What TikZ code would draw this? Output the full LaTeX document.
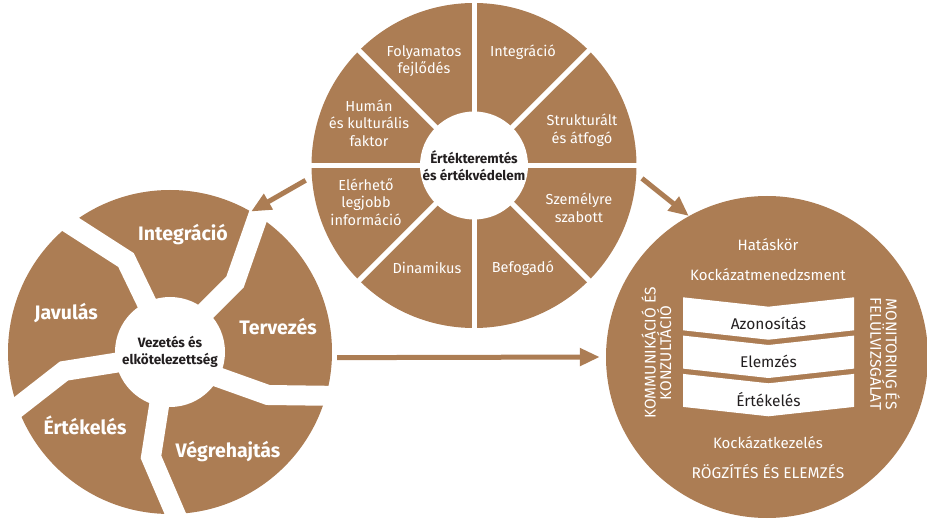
\documentclass[tikz,border=0pt]{standalone}
\usepackage{fontspec}
\setmainfont{Fira Sans}
\usetikzlibrary{arrows.meta}
\definecolor{bronze}{RGB}{172,125,84}
\definecolor{ink}{RGB}{35,31,32}

\begin{document}
\begin{tikzpicture}[x=1pt,y=1pt,
  disc/.style={circle,fill=bronze,minimum size=#1,inner sep=0pt},
  hub/.style={circle,fill=white,minimum size=#1,inner sep=0pt,align=center,
    text=ink,font=\bfseries\fontsize{13.5}{16.5}\selectfont},
  seg/.style={text=white,align=center,font=\fontsize{14.5}{17.5}\selectfont},
  big/.style={text=white,font=\bfseries\fontsize{19.5}{22}\selectfont},
  lbl/.style={text=white,align=center,font=\fontsize{15}{15.5}\selectfont},
  caps/.style={lbl,font=\fontsize{15.5}{15.5}\selectfont},
  stage/.style={text=ink,font=\fontsize{15.5}{17}\selectfont},
  cut/.style={draw=white,line width=5pt},
  gap/.style={draw=white,line width=20pt},
  arr/.style={draw=bronze,line width=5pt,-{Triangle[length=20pt,width=17pt]}}]
\useasboundingbox (0,0) rectangle (927,520);

\node[disc=325pt] (vc) at (474,354.5) {};
\foreach \a in {0,45,90,135}
  \draw[cut] (vc.center) +(\a:165) -- +(\a+180:165);
\node[hub=108pt] (vch) at (vc.center) {Értékteremtés\\és értékvédelem};
\node[seg] (fo) at (424,459) {Folyamatos\\fejlődés};
\node[seg] (in) at (523,468) {Integráció};
\node[seg] (st) at (582,390) {Strukturált\\és átfogó};
\node[seg] (sz) at (579,312) {Személyre\\szabott};
\node[seg] (be) at (523,252) {Befogadó};
\node[seg] (di) at (427,252) {Dinamikus};
\node[seg] (el) at (366,318) {Elérhető\\legjobb\\információ};
\node[seg] (hu) at (369,397) {Humán\\és kulturális\\faktor};

\node[disc=324pt] (lc) at (170,168) {};
\draw[gap] (154,202) -- (126,260) -- (56,305);
\draw[gap] (193,196) -- (235,238) -- (263,318);
\draw[gap] (198,150) -- (268,125) -- (343,124);
\draw[gap] (162,133) -- (151,63) -- (181,-7);
\draw[gap] (133,160) -- (64,149) -- (5,103);
\node[hub=110pt] (lch) at (lc.center) {Vezetés és\\elkötelezettség};
\node[big] (li) at (183,285) {Integráció};
\node[big] (lt) at (278,193) {Tervezés};
\node[big] (lv) at (228,68) {Végrehajtás};
\node[big] (le) at (85,95) {Értékelés};
\node[big] (lj) at (66,207) {Javulás};

\node[disc=322pt] (rc) at (767,163) {};
\node[lbl] (hk) at (768,275) {Hatáskör};
\node[lbl] (km) at (768,245) {Kockázatmenedzsment};
\foreach \i/\t in {0/Azonosítás,1/Elemzés,2/Értékelés}{
  \pgfmathsetmacro\a{222.7-38.3*\i}
  \fill[white] (683,\a) -- (768.5,\a-9.4) -- (854,\a) -- (854,\a-33)
    -- (768.5,\a-42.4) -- (683,\a-33) -- cycle;
  \node[stage] (s\i) at (768.5,\a-26) {\t};
}
\node[caps,rotate=90] (ko) at (656.5,167) {KOMMUNIKÁCIÓ ÉS\\KONZULTÁCIÓ};
\node[caps,rotate=-90] (mo) at (885,166) {MONITORING ÉS\\FELÜLVIZSGÁLAT};
\node[lbl] (kk) at (768,77) {Kockázatkezelés};
\node[caps] (rg) at (768,48) {RÖGZÍTÉS ÉS ELEMZÉS};

\draw[arr,shorten <=7pt] (vc.184) -- (lc.60);
\draw[arr,shorten <=7pt] (vc.-3) -- (rc.119);
\draw[arr,shorten <=5pt,shorten >=6pt] (lc.-2) -- (rc.180);
\end{tikzpicture}
\end{document}
